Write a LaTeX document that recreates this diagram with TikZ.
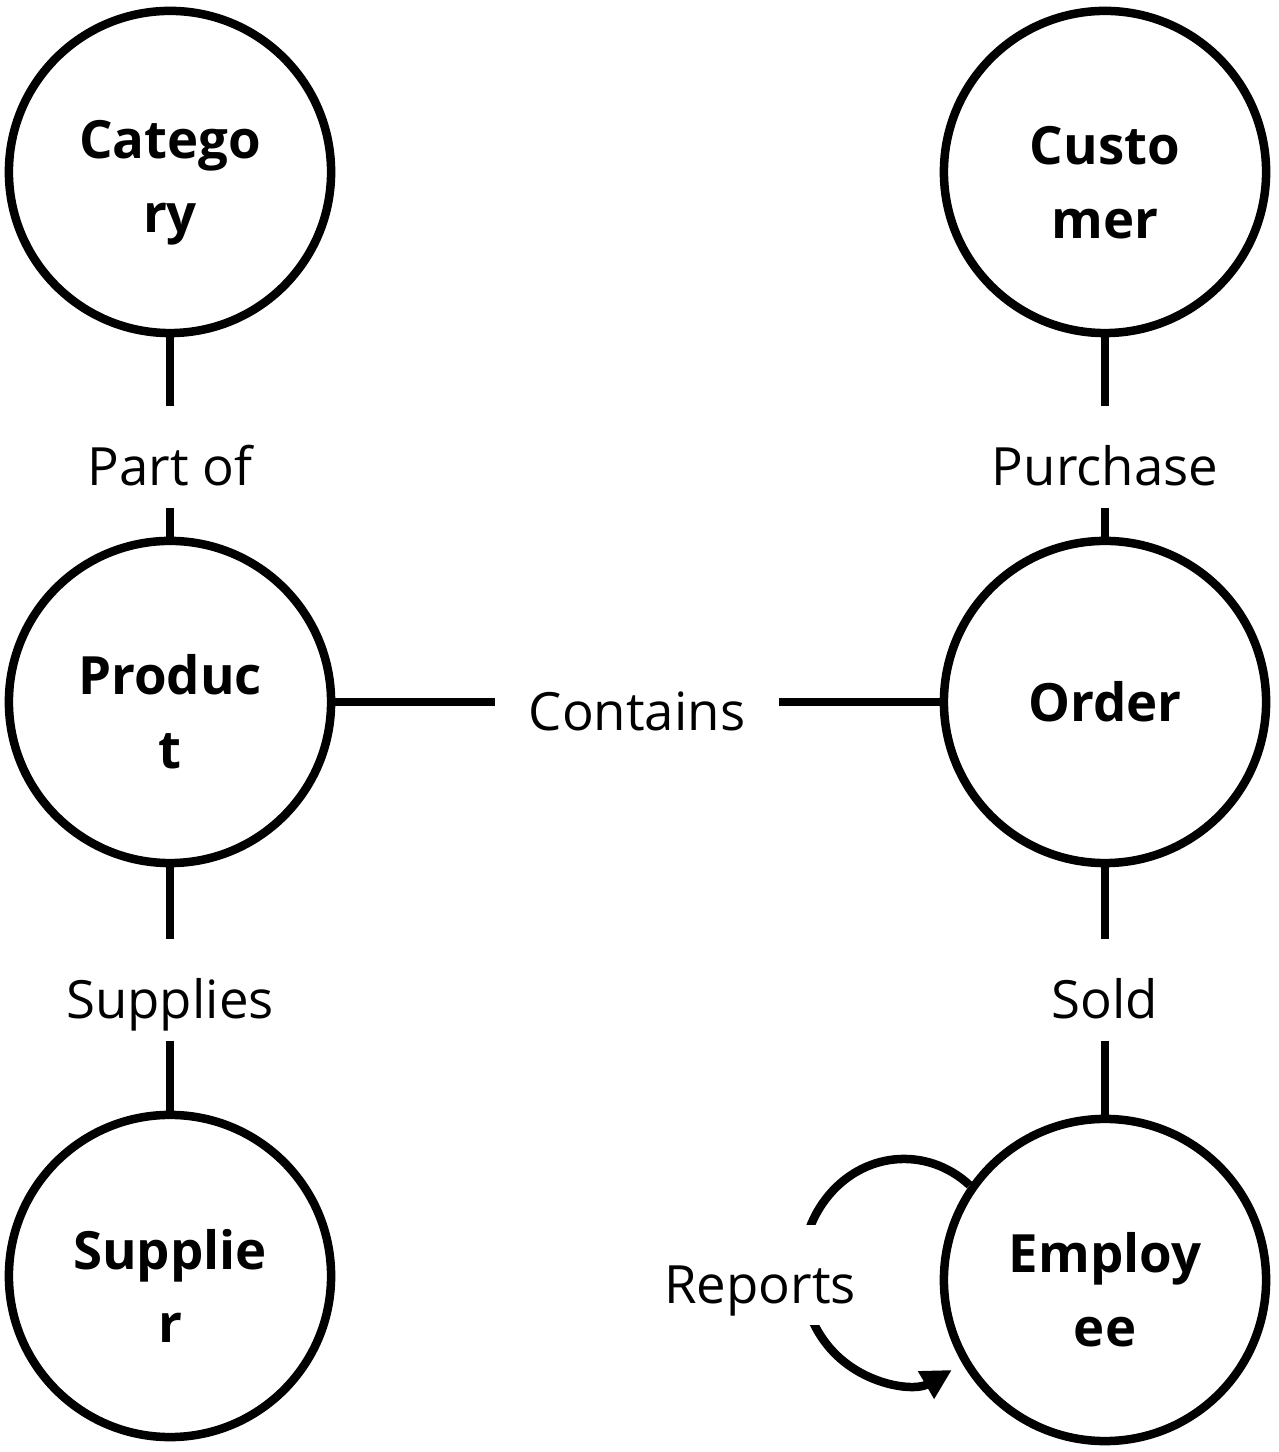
\documentclass[tikz,border=0pt]{standalone}
\usepackage{fontspec}
\setmainfont{Open Sans}
\usetikzlibrary{arrows.meta}
\newcommand\toplift{\rule{0pt}{0.6cm}}
\tikzset{entity/.style={circle, draw, line width=0.085cm, minimum size=3.22cm, inner sep=0pt, align=center,
    font=\fontsize{15}{21}\selectfont\bfseries},
rel/.style={font=\fontsize{15}{19}\selectfont, text height=0.61cm, text depth=0.05cm,
    inner xsep=0.33cm, inner ysep=0.17cm},
link/.style={line width=0.085cm}}

\begin{document}
\begin{tikzpicture}[x=0.01cm,y=0.01cm]
\useasboundingbox (0,0) rectangle (1278,1452);
% entities
\node[entity] (cat) at (170,1280) {\toplift Catego\\ry};
\node[entity] (cust) at (1105,1280) {\toplift Custo\\mer};
\node[entity] (prod) at (170,750) {\toplift Produc\\t};
\node[entity] (ord) at (1105,750) {Order};
\node[entity] (supp) at (170,176) {\toplift Supplie\\r};
\node[entity] (emp) at (1105,172) {\toplift Employ\\ee};
% relations
\node[rel] (partof) at (170,995) {Part of};
\node[rel] (purch) at (1105,995) {Purchase};
\node[rel] (cont) at (637,750) {Contains};
\node[rel] (supl) at (170,462) {Supplies};
\node[rel] (sold) at (1105,462) {Sold};
\draw[link] (cat) -- (partof) (partof) -- (prod);
\draw[link] (cust) -- (purch) (purch) -- (ord);
\draw[link] (prod) -- (cont) (cont) -- (ord);
\draw[link] (prod) -- (supl) (supl) -- (supp);
\draw[link] (ord) -- (sold) (sold) -- (emp);
% self loop
\draw[link,-{Triangle[length=0.3cm,width=0.3cm]}] (emp.145) arc[start angle=50, end angle=298, x radius=1.02cm, y radius=1.12cm];
\node[rel, fill=white] (rep) at (760,177) {Reports};
\end{tikzpicture}
\end{document}
